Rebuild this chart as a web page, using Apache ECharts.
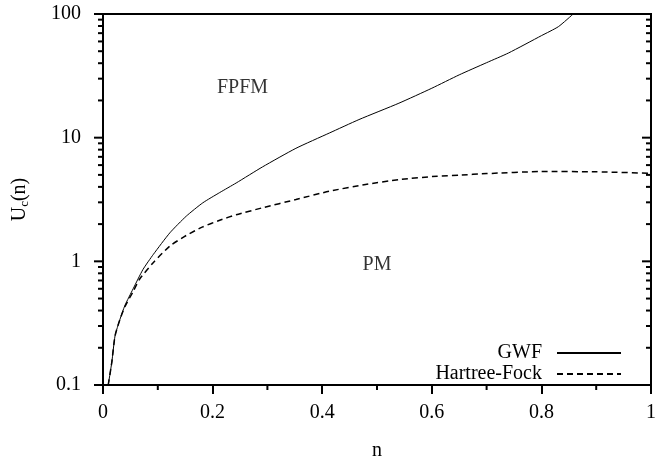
<!DOCTYPE html>
<html>
<head>
<meta charset="utf-8">
<script src="https://cdn.jsdelivr.net/npm/echarts@6/dist/echarts.min.js"></script>
<style>
html, body { margin: 0; padding: 0; background: #fff; }
#main { width: 659px; height: 466px; }
</style>
</head>
<body>
<div id="main"></div>
<script>
// GWF critical U vs filling n
var gwfN = [0.0095, 0.016, 0.022, 0.031, 0.040, 0.055, 0.073, 0.092, 0.122, 0.152, 0.182, 0.213, 0.243, 0.291, 0.352, 0.413, 0.467, 0.540, 0.600, 0.650, 0.700, 0.740, 0.800, 0.831, 0.858];
var gwfU = [0.10, 0.152, 0.25, 0.34, 0.44, 0.60, 0.86, 1.14, 1.70, 2.32, 2.97, 3.60, 4.30, 5.8, 8.2, 10.9, 14.0, 19.0, 25.1, 32.2, 40.4, 48.4, 66.8, 79, 100];

// Hartree-Fock
var hfN = [0.0095, 0.016, 0.022, 0.031, 0.040, 0.055, 0.067, 0.092, 0.122, 0.152, 0.182, 0.213, 0.243, 0.291, 0.352, 0.413, 0.479, 0.540, 0.610, 0.650, 0.700, 0.800, 0.900, 1.000];
var hfU = [0.10, 0.152, 0.25, 0.34, 0.43, 0.57, 0.72, 0.98, 1.33, 1.62, 1.90, 2.15, 2.38, 2.71, 3.16, 3.69, 4.18, 4.58, 4.88, 4.98, 5.12, 5.32, 5.30, 5.15];

var xMinor = [0.1, 0.3, 0.5, 0.7, 0.9];
var yMajor = [0.1, 1, 10, 100];
var yMinor = [0.2, 0.3, 0.4, 0.5, 0.6, 0.7, 0.8, 0.9, 2, 3, 4, 5, 6, 7, 8, 9, 20, 30, 40, 50, 60, 70, 80, 90];

// region labels
var regionNames = ['FPFM', 'PM'];
var regionN = [0.2545, 0.5];
var regionU = [25.3, 0.946];

function pairs(xs, ys) {
    var res = [];
    for (var i = 0; i < xs.length; i++) res.push([xs[i], ys[i]]);
    return res;
}

var font = 'Liberation Serif';
var txt = { fontFamily: font, fontSize: 20, color: '#000' };
var black2 = { color: '#000', width: 2 };

var myChart = echarts.init(document.getElementById('main'));

// ticks drawn as short segments placed through the axes' own scales
// x: down out of the bottom axis; y: outward on the left, inward on the right
function tickSeries(vals, len, isX) {
    return {
        type: 'custom', silent: true, clip: false, z: 10,
        data: vals.map(function (v) { return isX ? [v, 0.1] : [0, v]; }),
        encode: { x: 0, y: 1 },
        renderItem: function (params, api) {
            var sty = { stroke: '#000', lineWidth: 2 };
            if (isX) {
                var p = api.coord([api.value(0), 0.1]);
                return { type: 'line', shape: { x1: p[0], y1: p[1], x2: p[0], y2: p[1] + len }, style: sty };
            }
            var pl = api.coord([0, api.value(1)]);
            var pr = api.coord([1, api.value(1)]);
            return {
                type: 'group',
                children: [
                    { type: 'line', shape: { x1: pl[0] - len, y1: pl[1], x2: pl[0], y2: pl[1] }, style: sty },
                    { type: 'line', shape: { x1: pr[0] - len, y1: pr[1], x2: pr[0], y2: pr[1] }, style: sty }
                ]
            };
        }
    };
}

function legendFor(name, top) {
    return {
        data: [name], right: 32, top: top, align: 'right', itemWidth: 64, itemHeight: 14,
        itemStyle: { opacity: 0 },
        textStyle: { fontFamily: font, fontSize: 20, color: '#000', padding: [0, 10, 0, 0] }
    };
}

var option = {
    backgroundColor: '#fff',
    animation: false,
    grid: { left: 103, right: 6, top: 14, bottom: 80, show: true, borderColor: '#000', borderWidth: 2 },
    legend: [legendFor('GWF', 338), legendFor('Hartree-Fock', 359)],
    xAxis: {
        type: 'value', min: 0, max: 1, interval: 0.2, position: 'bottom',
        name: 'n', nameLocation: 'middle', nameGap: 56,
        nameTextStyle: txt,
        axisLine: { onZero: false, lineStyle: black2 },
        axisTick: { show: true, length: 9, lineStyle: black2 },
        axisLabel: { margin: 18, fontFamily: font, fontSize: 20, color: '#000',
            formatter: function (v) { return String(v); } },
        splitLine: { show: false }
    },
    yAxis: {
        type: 'log', logBase: 10, min: 0.1, max: 100, position: 'left',
        name: 'U{s|c}(n)', nameLocation: 'middle', nameGap: 72,
        nameTextStyle: {
            fontFamily: font, fontSize: 20, color: '#000',
            rich: { s: { fontFamily: font, fontSize: 13, color: '#000', verticalAlign: 'bottom', padding: [10, 0, 0, 0] } }
        },
        axisLine: { onZero: false, lineStyle: black2 },
        axisTick: { show: false },
        axisLabel: { margin: 22, fontFamily: font, fontSize: 20, color: '#000',
            formatter: function (v) { return String(v); } },
        splitLine: { show: false }
    },
    series: [
        {
            name: 'GWF', type: 'line', data: pairs(gwfN, gwfU), symbol: 'none', smooth: 0.2,
            lineStyle: { color: '#000', width: 1 }, itemStyle: { color: '#000' }
        },
        {
            name: 'Hartree-Fock', type: 'line', data: pairs(hfN, hfU), symbol: 'none', smooth: 0.2,
            lineStyle: { color: '#000', width: 1.5, type: [6, 4] }, itemStyle: { color: '#000' }
        },
        {
            type: 'scatter', symbolSize: 0, silent: true,
            data: regionNames.map(function (s, i) { return { value: [regionN[i], regionU[i]], name: s }; }),
            label: { show: true, position: 'inside', formatter: '{b}', fontFamily: font, fontSize: 20, color: '#000' }
        },
        tickSeries(xMinor, 5, true),
        tickSeries(yMajor, 9, false),
        tickSeries(yMinor, 5, false)
    ]
};

myChart.setOption(option);
</script>
</body>
</html>
